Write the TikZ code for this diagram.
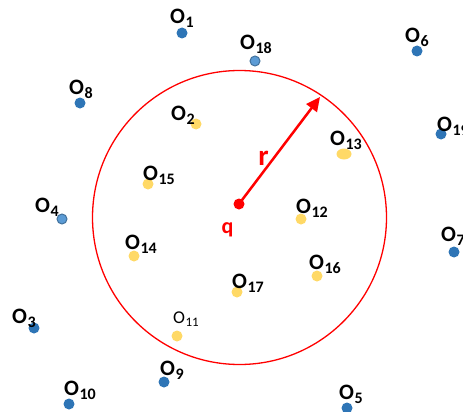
\documentclass[tikz,border=0pt]{standalone}
\usepackage{fontspec}
\setmainfont{Carlito}
\usetikzlibrary{arrows.meta,shapes.geometric}

\definecolor{ptblue}{HTML}{2E75B6}
\definecolor{ptlight}{HTML}{5B9BD5}
\definecolor{ptedge}{HTML}{41719C}
\definecolor{ptyellow}{HTML}{FFD966}

\newcommand{\onum}[1]{O\kern0.5pt\raisebox{-4pt}{\fontsize{16}{16}\selectfont #1}}
\newcommand{\osmall}[1]{O\kern0.5pt\raisebox{-3pt}{\fontsize{13}{13}\selectfont #1}}

\tikzset{
  dot/.style={circle, inner sep=0pt, minimum size=11pt},
  outdot/.style={dot, fill=ptblue},
  edgedot/.style={dot, fill=ptlight, draw=ptedge, line width=1pt, minimum size=10pt},
  indot/.style={dot, fill=ptyellow},
  olabel/.style={anchor=base west, inner sep=0pt, font=\fontsize{22}{22}\selectfont\bfseries}
}

\begin{document}
\begin{tikzpicture}[x=1pt, y=-1pt]
	\useasboundingbox (0,0) rectangle (463,412);
	% range circle
	\node[circle, draw=red, line width=1.3pt, minimum size=294pt, inner sep=0pt] (range) at (239.5,217.5) {};
	% objects outside the range
	\foreach \n/\x/\y/\lx/\ly in {1/182/33/170/24, 6/417/51/405/43, 8/80/103/69/94, 19/441/134/437/131, 7/454/252/441/241, 3/34/328/12/323, 9/164/382/160/375, 10/69/404/64/395, 5/347/408/339/399}
		{\node[outdot] (o\n) at (\x,\y) {}; \node[olabel] (l\n) at (\lx,\ly) {\onum{\n}};}
	\foreach \n/\x/\y/\lx/\ly in {18/255/61/240/50, 4/62/219/35/212}
		{\node[edgedot] (o\n) at (\x,\y) {}; \node[olabel] (l\n) at (\lx,\ly) {\onum{\n}};}
	% objects inside the range
	\foreach \n/\x/\y/\lx/\ly in {2/196/124/171/120, 15/148/184/143/180, 12/301/219/296/213, 14/134/256/125/249, 16/317/276/309/269, 17/237/292/232/288}
		{\node[indot] (o\n) at (\x,\y) {}; \node[olabel] (l\n) at (\lx,\ly) {\onum{\n}};}
	\node[indot, ellipse, minimum width=15pt, minimum height=11pt] (o13) at (344,154) {};
	\node[olabel] (l13) at (330,145) {\onum{13}};
	\node[indot] (o11) at (177,336) {};
	\node[anchor=base west, inner sep=0pt, font=\fontsize{18}{18}\selectfont] (l11) at (173,323) {\osmall{11}};
	% query point and radius
	\node[dot, fill=red, minimum size=11pt] (q) at (239,204) {};
	\coordinate (rend) at (320,97);
	\draw[red, line width=2.5pt, -{Triangle[length=14pt, width=13pt]}] (q.center) -- (rend);
	\node[red, anchor=base, inner sep=0pt, font=\fontsize{22}{22}\selectfont\bfseries] (qlab) at (227.5,233) {q};
	\node[red, anchor=base, inner sep=0pt, font=\fontsize{29}{29}\selectfont\bfseries] (rlab) at (263.5,165) {r};
\end{tikzpicture}
\end{document}
